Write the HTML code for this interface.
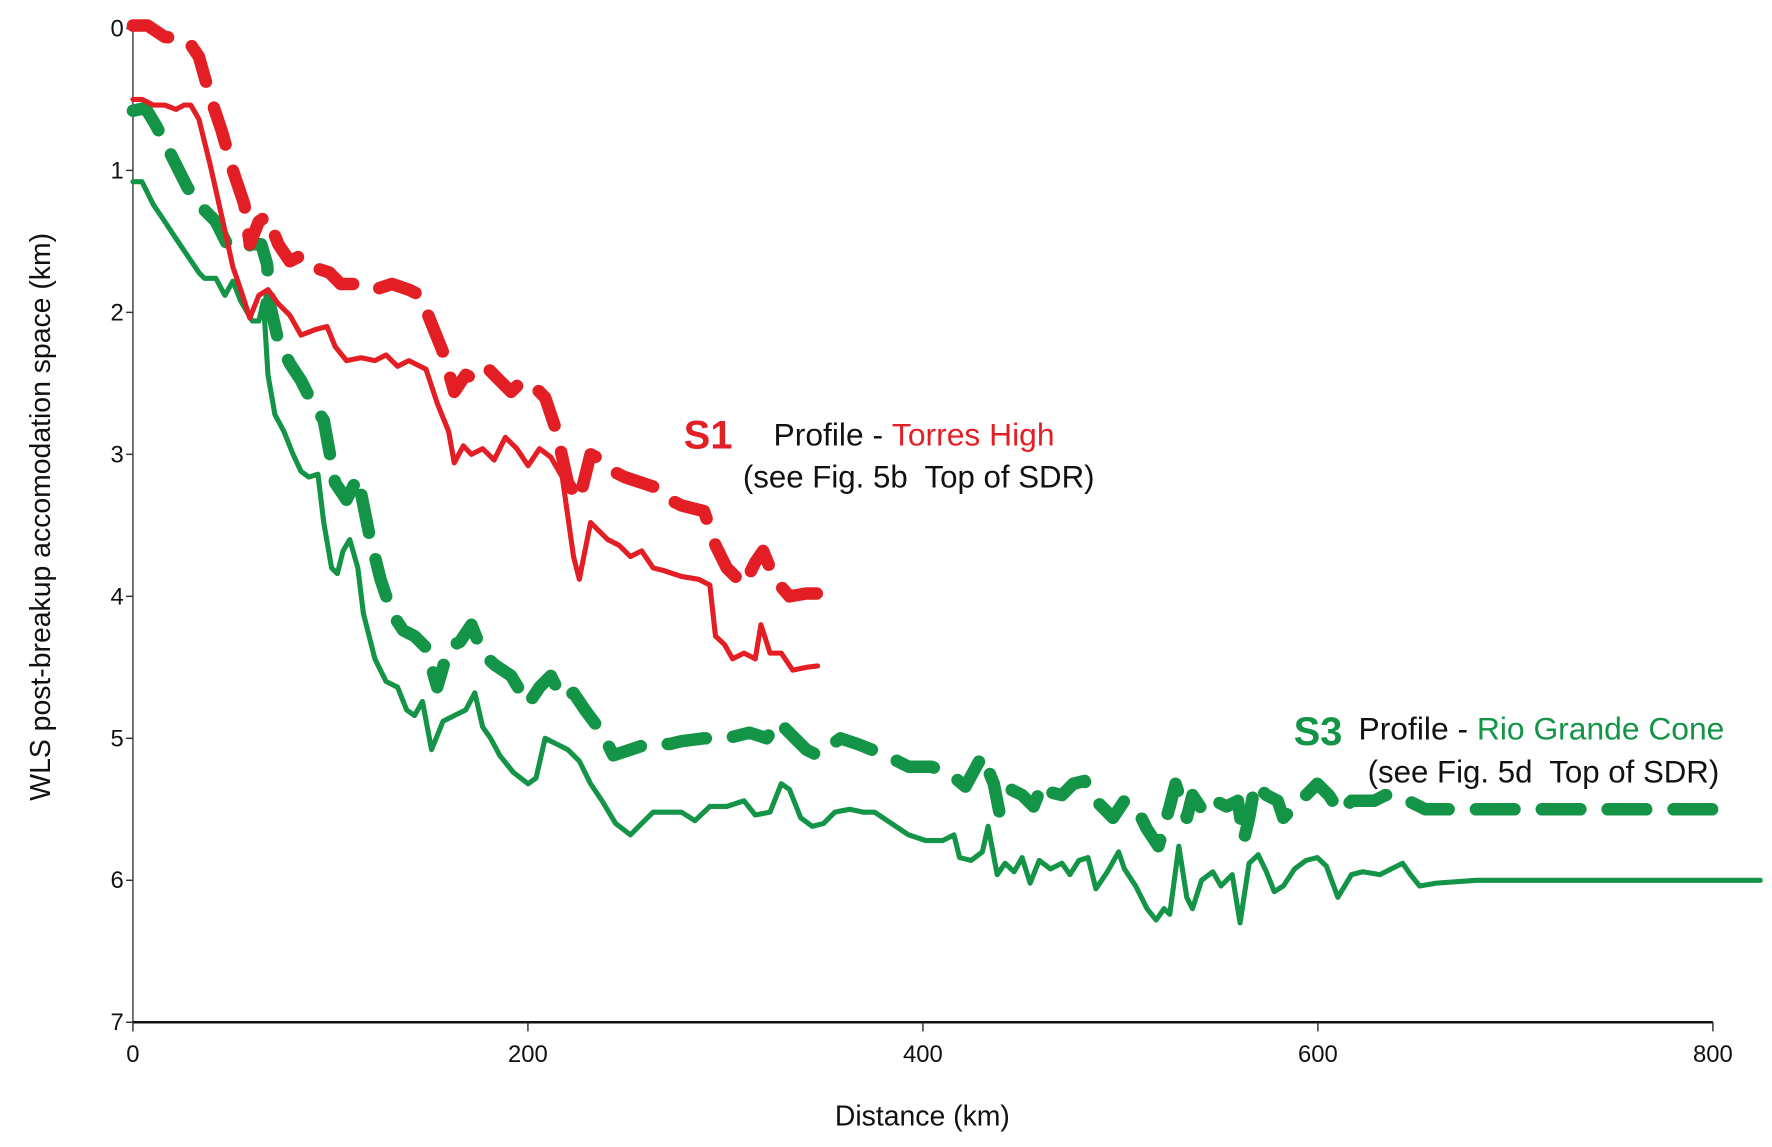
<!DOCTYPE html>
<html><head><meta charset="utf-8"><style>
html,body{margin:0;padding:0;background:#fff;}
svg{display:block;font-family:"Liberation Sans",sans-serif;}
</style></head><body>
<svg id="chart" width="1772" height="1147" viewBox="0 0 1560 1009.8" xmlns="http://www.w3.org/2000/svg">
<g id="axes"></g>
<g id="series"></g>
<text transform="translate(44,455) rotate(-90)" text-anchor="middle" font-size="25" fill="#111">WLS post-breakup accomodation space (km)</text>
<text x="812" y="991" text-anchor="middle" font-size="25" fill="#111">Distance (km)</text>
<g>
<text x="602" y="395" font-size="35" font-weight="bold" fill="#e31e24">S1</text>
<text x="681" y="392" font-size="28" fill="#111">Profile - <tspan fill="#e31e24">Torres High</tspan></text>
<text x="654" y="429" font-size="27.5" fill="#111">(see Fig. 5b&#160; Top of SDR)</text>
</g>
<g>
<text x="1139" y="656" font-size="35" font-weight="bold" fill="#139447">S3</text>
<text x="1196" y="651" font-size="28" fill="#111">Profile - <tspan fill="#139447">Rio Grande Cone</tspan></text>
<text x="1204" y="689" font-size="27.5" fill="#111">(see Fig. 5d&#160; Top of SDR)</text>
</g>
</svg>
<script>
const xTicks=[0,200,400,600,800];
const yTicks=[0,1,2,3,4,5,6,7];
const s1DashedX=[0,7.5,16.1,27.6,33.4,39.1,44.9,50.6,56.4,59.2,63.8,67.9,73.6,79.4,85.1,90.9,99.5,105.2,113.9,122.5,131.1,139.7,145.5,151.2,157,162.7,168.5,174.2,180,185.7,191.5,197.2,203,208.7,214.5,220.2,226,231.7,237.5,243.2,249,257.6,266.2,272,277.7,289.2,295,300.7,309.4,315.1,319.1,324.9,332.4,341,346.7];
const s1DashedY=[-0.02,-0.02,0.06,0.08,0.2,0.48,0.72,1.0,1.24,1.52,1.36,1.32,1.52,1.64,1.6,1.68,1.72,1.8,1.8,1.84,1.8,1.84,1.88,2.08,2.28,2.56,2.44,2.48,2.4,2.48,2.56,2.48,2.52,2.6,2.84,3.2,3.32,3.0,3.04,3.12,3.16,3.2,3.24,3.32,3.36,3.4,3.64,3.8,3.92,3.76,3.68,3.88,4.0,3.98,3.98];
const s1SolidX=[0,4.6,10.3,16.1,21.8,25.9,29.3,33.4,39.1,44.9,50.6,54.6,59.2,63.8,68.4,73.6,79.4,85.1,92.6,98.3,102.4,108.1,115.6,122.5,128.2,134,139.7,148.4,154.1,159.9,162.7,167.3,171.4,177.1,182.9,188.6,194.4,200.1,205.9,211.6,217.4,223.1,226,231.7,234.6,240.4,246.1,251.9,257.6,263.4,269.1,277.7,286.4,292.1,295,299.6,303.6,309.4,315.1,318,322.6,328.3,334.1,341,346.7];
const s1SolidY=[0.5,0.5,0.54,0.54,0.57,0.54,0.54,0.64,0.96,1.32,1.68,1.84,2.04,1.88,1.84,1.94,2.02,2.16,2.12,2.1,2.24,2.34,2.32,2.34,2.3,2.38,2.34,2.4,2.64,2.84,3.06,2.94,3.0,2.96,3.04,2.88,2.96,3.08,2.96,3.02,3.16,3.72,3.88,3.48,3.52,3.6,3.64,3.72,3.68,3.8,3.82,3.86,3.88,3.92,4.28,4.34,4.44,4.4,4.44,4.2,4.4,4.4,4.52,4.5,4.49];
const s3DashedX=[0,6.3,11.5,16.1,21.8,27.6,33.4,42,47.7,53.5,60.4,65,67.9,69.6,73.6,79.4,85.1,90.9,96.6,102.4,108.1,113.9,119.6,125.4,131.1,136.9,142.6,148.4,154.1,159.9,165.6,171.4,177.1,182.9,191.5,200.1,205.9,211.6,217.4,223.1,228.9,237.5,243.2,251.9,260.5,272,277.7,289.2,300.7,312.2,320.9,326.6,335.2,341,346.7,358.2,366.9,381.3,392.7,404.2,412.9,421.5,430.1,435.9,438.7,444.5,450.2,456,460.6,464.6,470.4,476.1,481.9,484.7,490.5,496.2,502,507.7,513.5,519.2,525,527.9,530.7,533.6,536.5,542.2,548,553.7,559.5,562.4,565.2,568.1,573.9,579.6,582.5,588.2,594,599.7,605.5,611.2,617,628.5,634.2,640,645.7,654.4,668.8,801];
const s3DashedY=[0.58,0.56,0.68,0.8,0.96,1.12,1.24,1.36,1.52,1.56,1.52,1.52,1.66,1.96,2.2,2.36,2.48,2.64,2.76,3.2,3.32,3.16,3.56,3.88,4.12,4.24,4.28,4.36,4.64,4.36,4.32,4.2,4.4,4.48,4.56,4.76,4.64,4.56,4.72,4.68,4.8,4.96,5.12,5.08,5.04,5.04,5.02,5.0,5.0,4.96,5.0,4.88,5.0,5.08,5.12,5.0,5.04,5.12,5.2,5.2,5.24,5.34,5.12,5.32,5.52,5.36,5.4,5.48,5.32,5.38,5.4,5.32,5.3,5.4,5.48,5.56,5.44,5.48,5.64,5.76,5.48,5.32,5.44,5.56,5.4,5.52,5.44,5.48,5.44,5.72,5.56,5.32,5.4,5.44,5.56,5.48,5.4,5.32,5.4,5.52,5.44,5.44,5.4,5.4,5.44,5.5,5.5,5.5];
const s3SolidX=[0,4.6,10.3,16.1,21.8,27.6,33.4,36.2,42,46.6,50.6,54.6,60.4,63.8,66.1,68.4,71.9,76.5,81.1,85.1,89.1,93.7,96.6,100.6,103.5,106.4,109.8,113.9,116.7,122.5,128.2,134,138.6,142.6,146.6,151.2,157,162.7,168.5,173.1,177.1,181.1,185.7,192.6,200.1,204.1,208.7,214.5,220.2,226,231.7,237.5,244.4,251.9,257.6,263.4,272,277.7,284.6,292.1,300.7,309.4,315.1,322.6,328.3,332.4,338.1,343.9,349.6,355.4,362.9,369.7,375.5,384.1,392.7,401.4,410,415.7,418.6,424.4,430.1,433,437.6,441.6,446.2,450.2,454.3,458.9,464.6,470.4,474.4,479,483.6,487.6,493.4,499.1,502,507.7,513.5,518.1,522.1,525,529.6,533.6,536.5,541.1,546.8,550.9,556.6,560.6,565.2,569.8,573.9,577.9,582.5,588.2,594,599.7,604.3,610.1,617,622.7,631.4,637.1,642.9,646.9,651.5,660.1,680.2,737.7,824];
const s3SolidY=[1.08,1.08,1.24,1.36,1.48,1.6,1.72,1.76,1.76,1.88,1.78,1.92,2.06,2.06,1.92,2.44,2.72,2.84,3.0,3.12,3.16,3.14,3.48,3.8,3.84,3.68,3.6,3.8,4.12,4.44,4.6,4.64,4.8,4.84,4.74,5.08,4.88,4.84,4.8,4.68,4.92,5.0,5.12,5.24,5.32,5.28,5.0,5.04,5.08,5.16,5.32,5.44,5.6,5.68,5.6,5.52,5.52,5.52,5.58,5.48,5.48,5.44,5.54,5.52,5.32,5.36,5.56,5.62,5.6,5.52,5.5,5.52,5.52,5.6,5.68,5.72,5.72,5.68,5.84,5.86,5.8,5.62,5.96,5.88,5.94,5.84,6.02,5.86,5.92,5.88,5.96,5.86,5.84,6.06,5.94,5.8,5.92,6.04,6.2,6.28,6.2,6.24,5.76,6.12,6.2,6.0,5.94,6.04,5.96,6.3,5.88,5.82,5.94,6.08,6.04,5.92,5.86,5.84,5.9,6.12,5.96,5.94,5.96,5.92,5.88,5.96,6.04,6.02,6.0,6.0,6.0];

const NS='http://www.w3.org/2000/svg';
const X0=117,XS=(1508-117)/800,Y0=25,YS=(900-25)/7;
function sx(v){return X0+v*XS;}
function sy(v){return Y0+v*YS;}
function mk(tag,attrs,parent){const e=document.createElementNS(NS,tag);for(const k in attrs)e.setAttribute(k,attrs[k]);parent.appendChild(e);return e;}
const axes=document.getElementById('axes');
let yl=mk('line',{x1:sx(0),y1:sy(0)-3,x2:sx(0),y2:sy(7),stroke:'#444','stroke-width':1.3},axes);


let xl=mk('line',{x1:sx(0),y1:sy(7),x2:sx(800),y2:sy(7),stroke:'#111','stroke-width':2.2},axes);


yTicks.forEach(t=>{
  const l=mk('line',{x1:sx(0)-6,y1:sy(t),x2:sx(0),y2:sy(t),stroke:'#333','stroke-width':1.3},axes);
  
  
  const tx=mk('text',{x:sx(0)-8,y:sy(t)+7,'text-anchor':'end','font-size':21,fill:'#111'},axes);
  tx.textContent=t;
  
  
});
xTicks.forEach(t=>{
  const l=mk('line',{x1:sx(t),y1:sy(7),x2:sx(t),y2:sy(7)+8,stroke:'#333','stroke-width':1.3},axes);
  
  
  const tx=mk('text',{x:sx(t),y:sy(7)+35,'text-anchor':'middle','font-size':21,fill:'#111'},axes);
  tx.textContent=t;
  
  
});
const ser=document.getElementById('series');
function line(xs,ys,color,w,dash,name){
  const d=xs.map((x,i)=>(i?'L':'M')+sx(x).toFixed(1)+','+sy(ys[i]).toFixed(1)).join(' ');
  const p=mk('path',{d:d,fill:'none',stroke:color,'stroke-width':w,'stroke-linecap':'round','stroke-linejoin':'round'},ser);
  if(dash)p.setAttribute('stroke-dasharray',dash);
  
  
}
line(s3SolidX,s3SolidY,'#139447',4.5,null,'s3-solid-line');
line(s3DashedX,s3DashedY,'#139447',11,'34 24','s3-dashed-line');
line(s1SolidX,s1SolidY,'#e31e24',4.5,null,'s1-solid-line');
line(s1DashedX,s1DashedY,'#e31e24',11,'34 24','s1-dashed-line');
</script>
</body></html>
